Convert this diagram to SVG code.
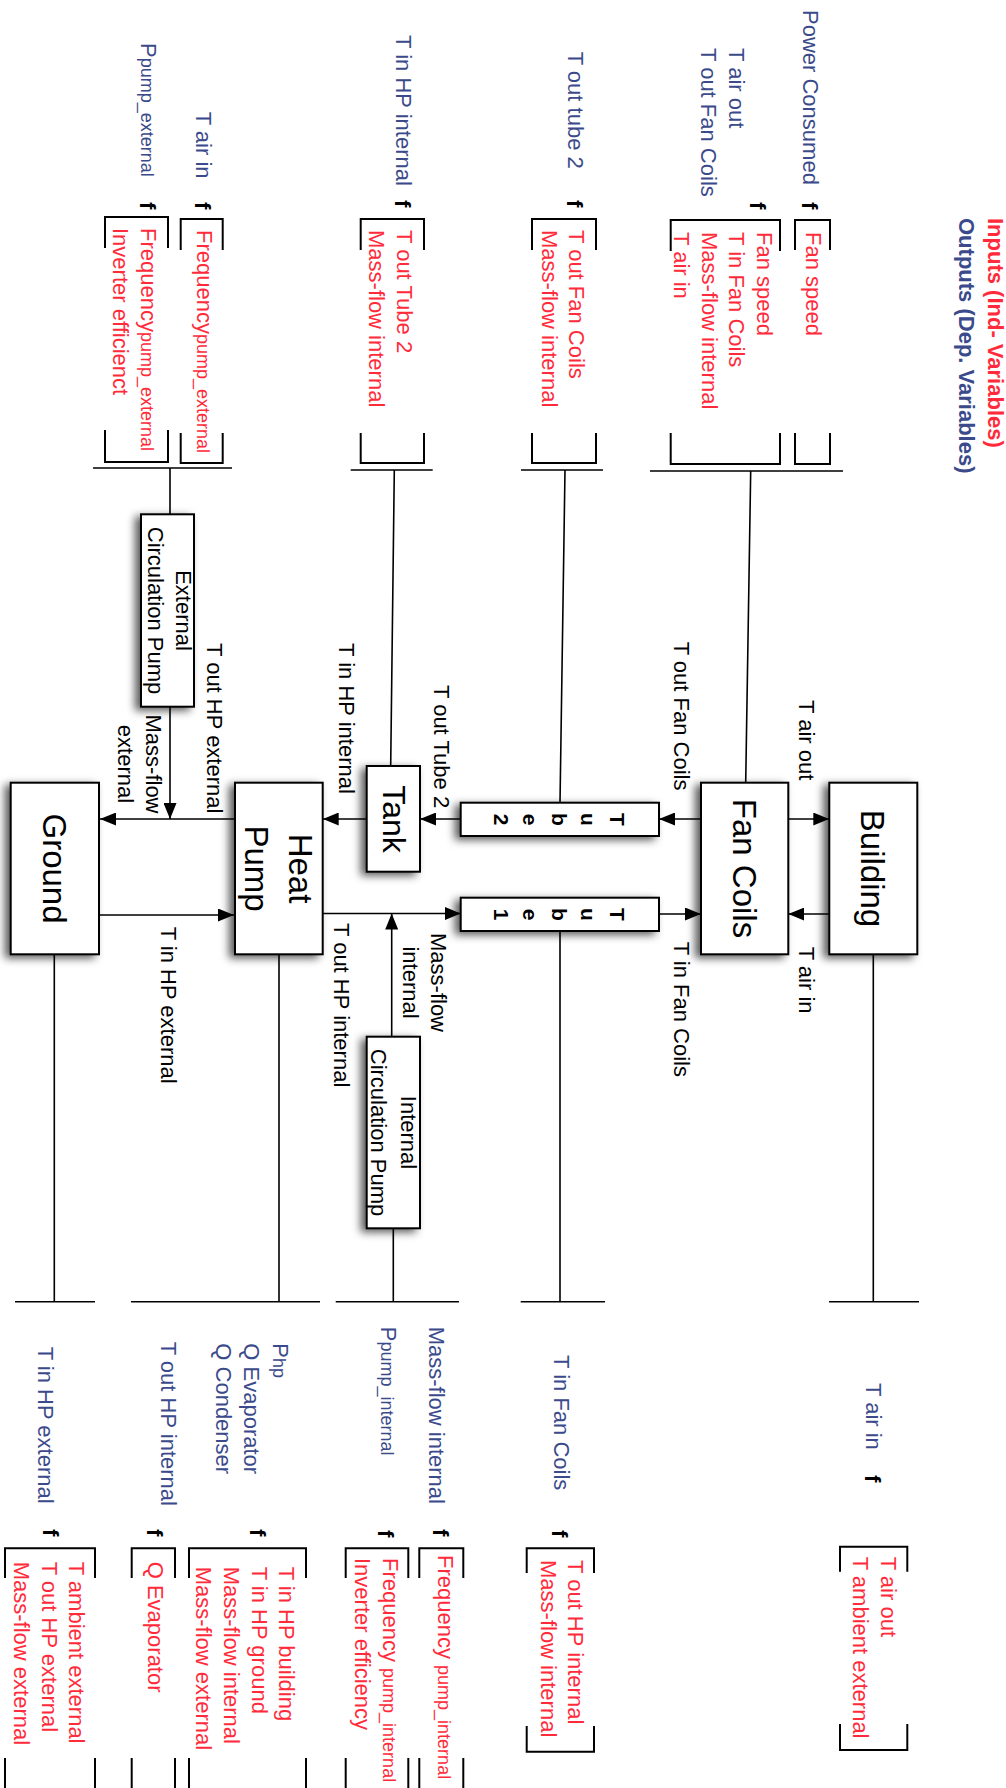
<svg xmlns="http://www.w3.org/2000/svg" width="1006" height="1788" viewBox="0 0 1006 1788">
<defs>
<style>
text{font-family:"Liberation Sans",Arial,Helvetica,sans-serif;font-size:22px}
.k{fill:#000}
.b{fill:#3b4a8b}
.r{fill:#ff2b3b}
.f{fill:#000;font-weight:bold}
.big{font-size:33px}
.tank{font-size:32px}
.tb{font-weight:bold;font-size:21px;fill:#000}
.s{font-size:18px}
.box{fill:#fff;stroke:#000;stroke-width:2;filter:url(#sh)}
.ln{fill:none;stroke:#000;stroke-width:1.6}
.br{fill:none;stroke:#000;stroke-width:2}
.ar{fill:none;stroke:#000;stroke-width:1.6;marker-end:url(#ah)}
</style>
<filter id="sh" x="-40%" y="-40%" width="180%" height="180%">
<feDropShadow dx="-5" dy="3" stdDeviation="4" flood-color="#000" flood-opacity="0.65"/>
</filter>
<marker id="ah" markerWidth="16" markerHeight="13" refX="16" refY="6.5" orient="auto" markerUnits="userSpaceOnUse">
<path d="M0,0 L16,6.5 L0,13 z" fill="#000"/>
</marker>
</defs>
<rect width="1006" height="1788" fill="#fff"/>

<g id="legend">
<text class="r" font-weight="bold" transform="translate(987.5,218) rotate(90)">Inputs (Ind- Variables)</text>
<text class="b" font-weight="bold" transform="translate(959,218) rotate(90)">Outputs (Dep. Variables)</text>
</g>

<g id="connectors">
<!-- top T-lines -->
<path class="ln" d="M650,471 L843,471 M750.7,471 L745.7,782.7"/>
<path class="ln" d="M521,470 L603,470 M565,470 L560,803"/>
<path class="ln" d="M350.7,470 L432.7,470 M394.3,470 L390.7,766"/>
<path class="ln" d="M93,468 L232,468 M170,468 L170,514"/>
<!-- bottom T-lines -->
<path class="ln" d="M54.3,954 L54.3,1301.7 M15,1301.7 L95,1301.7"/>
<path class="ln" d="M279,954 L279,1301.7 M131,1301.7 L320,1301.7"/>
<path class="ln" d="M393.3,1228 L393.3,1301.7 M335.7,1301.7 L459,1301.7"/>
<path class="ln" d="M560,931 L560,1301.7 M520.7,1301.7 L605,1301.7"/>
<path class="ln" d="M873.3,954 L873.3,1301.7 M829,1301.7 L919,1301.7"/>
<!-- arrows -->
<line class="ar" x1="235" y1="819" x2="100" y2="819"/>
<line class="ar" x1="99" y1="915" x2="234" y2="915"/>
<line class="ar" x1="170" y1="707" x2="170" y2="819"/>
<line class="ar" x1="366.7" y1="819" x2="322.7" y2="819"/>
<line class="ar" x1="461" y1="819" x2="420" y2="819"/>
<line class="ar" x1="322.7" y1="913.5" x2="460.7" y2="913.5"/>
<line class="ar" x1="391.7" y1="1036.7" x2="391.7" y2="913.5"/>
<line class="ar" x1="659" y1="914" x2="701" y2="914"/>
<line class="ar" x1="701" y1="819" x2="659" y2="819"/>
<line class="ar" x1="788.3" y1="819" x2="829.3" y2="819"/>
<line class="ar" x1="829.3" y1="914" x2="788.3" y2="914"/>
<!-- connector labels -->
<text class="k" text-anchor="middle" transform="translate(146,764) rotate(90)"><tspan x="0">Mass-flow</tspan><tspan x="0" dy="28.4">external</tspan></text>
<text class="k" transform="translate(207,643) rotate(90)">T out HP external</text>
<text class="k" transform="translate(161,926.7) rotate(90)">T in HP external</text>
<text class="k" transform="translate(338.6,643) rotate(90)">T in HP internal</text>
<text class="k" transform="translate(434.3,685) rotate(90)">T out Tube 2</text>
<text class="k" text-anchor="middle" transform="translate(431,982.5) rotate(90)"><tspan x="0">Mass-flow</tspan><tspan x="0" dy="28.4">internal</tspan></text>
<text class="k" transform="translate(334.3,923) rotate(90)">T out HP internal</text>
<text class="k" transform="translate(799.3,700) rotate(90)">T air out</text>
<text class="k" transform="translate(674.3,641.7) rotate(90)">T out Fan Coils</text>
<text class="k" transform="translate(674.3,941.7) rotate(90)">T in  Fan Coils</text>
<text class="k" transform="translate(799.3,946.7) rotate(90)">T air in</text>
</g>

<g id="ground">
<rect class="box" x="10.7" y="782.7" width="88.3" height="171.6"/>
<text class="k big" text-anchor="middle" transform="translate(43,868.5) rotate(90)">Ground</text>
</g>
<g id="heat-pump">
<rect class="box" x="235" y="782.7" width="87.7" height="171.6"/>
<text class="k big" text-anchor="middle" transform="translate(289,868.5) rotate(90)"><tspan x="0">Heat</tspan><tspan x="0" dy="44.3">Pump</tspan></text>
</g>
<g id="tank">
<rect class="box" x="366.7" y="766" width="53.3" height="105.7"/>
<text class="k tank" text-anchor="middle" transform="translate(383,819) rotate(90)">Tank</text>
</g>
<g id="external-pump">
<rect class="box" x="141" y="514.3" width="53" height="192.4"/>
<text class="k" text-anchor="middle" transform="translate(176,610.5) rotate(90)"><tspan x="0">External</tspan><tspan x="0" dy="28.4">Circulation Pump</tspan></text>
</g>
<g id="internal-pump">
<rect class="box" x="366.7" y="1036.7" width="53.3" height="191.6"/>
<text class="k" text-anchor="middle" transform="translate(401,1132.5) rotate(90)"><tspan x="0">Internal</tspan><tspan x="0" dy="30">Circulation Pump</tspan></text>
</g>
<g id="tube-2">
<rect class="box" x="460.7" y="802.7" width="198.3" height="33.3"/>
<text class="tb" text-anchor="middle" transform="translate(610,819.5) rotate(90)"><tspan x="0">T</tspan><tspan x="0" dy="29">u</tspan><tspan x="0" dy="29">b</tspan><tspan x="0" dy="29">e</tspan><tspan x="0" dy="29">2</tspan></text>
</g>
<g id="tube-1">
<rect class="box" x="460.7" y="897.7" width="198.3" height="33.3"/>
<text class="tb" text-anchor="middle" transform="translate(610,914.5) rotate(90)"><tspan x="0">T</tspan><tspan x="0" dy="29">u</tspan><tspan x="0" dy="29">b</tspan><tspan x="0" dy="29">e</tspan><tspan x="0" dy="29">1</tspan></text>
</g>
<g id="fan-coils">
<rect class="box" x="701" y="782.7" width="87.3" height="171.6"/>
<text class="k big" text-anchor="middle" transform="translate(733,868.5) rotate(90)">Fan Coils</text>
</g>
<g id="building">
<rect class="box" x="829.3" y="782.7" width="88" height="171.6"/>
<text class="k big" text-anchor="middle" transform="translate(861.4,868.5) rotate(90)">Building</text>
</g>

<!-- top equation groups -->
<g id="eq-power-consumed">
<text class="b" transform="translate(802.5,10) rotate(90)">Power Consumed</text>
<text class="f" transform="translate(802,202) rotate(90)">f</text>
<path class="br" d="M795,250 L795,220 L830,220 L830,250 M795,433 L795,464 L830,464 L830,433"/>
<text class="r" transform="translate(806,232) rotate(90)">Fan speed</text>
</g>
<g id="eq-fan-coils-out">
<text class="b" transform="translate(729,48) rotate(90)"><tspan x="0">T air out</tspan><tspan x="0" dy="27.7">T out Fan Coils</tspan></text>
<text class="f" transform="translate(750,202) rotate(90)">f</text>
<path class="br" d="M670.7,251 L670.7,220 L780,220 L780,251 M670.7,433 L670.7,464 L780,464 L780,433"/>
<text class="r" transform="translate(757,232) rotate(90)"><tspan x="0">Fan speed</tspan><tspan x="0" dy="27.7">T in Fan Coils</tspan><tspan x="0" dy="27.7">Mass-flow internal</tspan><tspan x="0" dy="27.7">T air in</tspan></text>
</g>
<g id="eq-tube-2">
<text class="b" transform="translate(567.6,51.7) rotate(90)">T out tube 2</text>
<text class="f" transform="translate(567,200) rotate(90)">f</text>
<path class="br" d="M532,250 L532,219 L596,219 L596,250 M532,433 L532,463 L596,463 L596,433"/>
<text class="r" transform="translate(569.3,230) rotate(90)"><tspan x="0">T out Fan Coils</tspan><tspan x="0" dy="27.7">Mass-flow internal</tspan></text>
</g>
<g id="eq-tank">
<text class="b" transform="translate(396,35) rotate(90)">T in HP internal</text>
<text class="f" transform="translate(395,200) rotate(90)">f</text>
<path class="br" d="M360.7,250 L360.7,219 L424,219 L424,250 M360.7,433 L360.7,463 L424,463 L424,433"/>
<text class="r" transform="translate(397,230) rotate(90)"><tspan x="0">T out Tube 2</tspan><tspan x="0" dy="27.7">Mass-flow internal</tspan></text>
</g>
<g id="eq-ext-pump-air">
<text class="b" transform="translate(196,111.7) rotate(90)">T air in</text>
<text class="f" transform="translate(195,202) rotate(90)">f</text>
<path class="br" d="M180.7,250 L180.7,219 L222.7,219 L222.7,250 M180.7,433 L180.7,463 L222.7,463 L222.7,433"/>
<text class="r" transform="translate(197,230) rotate(90)">Frequency<tspan class="s">pump_external</tspan></text>
</g>
<g id="eq-ext-pump-power">
<text class="b" transform="translate(141,43) rotate(90)">P<tspan class="s">pump_external</tspan></text>
<text class="f" transform="translate(140,202) rotate(90)">f</text>
<path class="br" d="M105,248 L105,217 L168,217 L168,248 M105,430 L105,462 L168,462 L168,430"/>
<text class="r" transform="translate(141,228) rotate(90)"><tspan x="0">Frequency<tspan class="s">pump_external</tspan></tspan><tspan x="0" dy="27.7">Inverter efficienct</tspan></text>
</g>

<!-- bottom equation groups -->
<g id="eq-ground">
<text class="b" transform="translate(37.6,1346.7) rotate(90)">T in HP external</text>
<text class="f" transform="translate(43,1529) rotate(90)">f</text>
<path class="br" d="M5,1578 L5,1548.3 L95,1548.3 L95,1578 M5,1758 L5,1792 M95,1758 L95,1792"/>
<text class="r" transform="translate(69.3,1561.7) rotate(90)"><tspan x="0">T ambient external</tspan><tspan x="0" dy="27.7">T out HP external</tspan><tspan x="0" dy="27.7">Mass-flow external</tspan></text>
</g>
<g id="eq-hp-tout">
<text class="b" transform="translate(161,1341.7) rotate(90)">T out HP internal</text>
<text class="f" transform="translate(147,1529) rotate(90)">f</text>
<path class="br" d="M131.7,1578 L131.7,1548.3 L175,1548.3 L175,1578 M131.7,1758 L131.7,1792 M175,1758 L175,1792"/>
<text class="r" transform="translate(147.6,1561.7) rotate(90)">Q Evaporator</text>
</g>
<g id="eq-hp-power">
<text class="b" transform="translate(272.6,1343.3) rotate(90)"><tspan x="0">P<tspan class="s">hp</tspan></tspan><tspan x="0" dy="28.3">Q Evaporator</tspan><tspan x="0" dy="28.3">Q Condenser</tspan></text>
<text class="f" transform="translate(250,1529) rotate(90)">f</text>
<path class="br" d="M189,1578 L189,1548.3 L306,1548.3 L306,1578 M189,1758 L189,1792 M306,1758 L306,1792"/>
<text class="r" transform="translate(279.3,1566.7) rotate(90)"><tspan x="0">T in HP building</tspan><tspan x="0" dy="27.7">T in HP ground</tspan><tspan x="0" dy="27.7">Mass-flow internal</tspan><tspan x="0" dy="27.7">Mass-flow external</tspan></text>
</g>
<g id="eq-int-pump-power">
<text class="b" transform="translate(381,1326.7) rotate(90)">P<tspan class="s">pump_internal</tspan></text>
<text class="f" transform="translate(378,1530) rotate(90)">f</text>
<path class="br" d="M345.7,1578 L345.7,1548.3 L408.3,1548.3 L408.3,1578 M345.7,1758 L345.7,1792 M408.3,1758 L408.3,1792"/>
<text class="r" transform="translate(382.6,1558) rotate(90)"><tspan x="0">Frequency <tspan class="s">pump_internal</tspan></tspan><tspan x="0" dy="27.7">Inverter efficiency</tspan></text>
</g>
<g id="eq-int-pump-flow">
<text class="b" transform="translate(429.3,1326.7) rotate(90)">Mass-flow internal</text>
<text class="f" transform="translate(433,1529) rotate(90)">f</text>
<path class="br" d="M419.3,1578 L419.3,1548.3 L463.3,1548.3 L463.3,1578 M419.3,1758 L419.3,1792 M463.3,1758 L463.3,1792"/>
<text class="r" transform="translate(437.6,1555) rotate(90)">Frequency <tspan class="s">pump_internal</tspan></text>
</g>
<g id="eq-tube-1">
<text class="b" transform="translate(554.3,1355) rotate(90)">T in  Fan Coils</text>
<text class="f" transform="translate(552,1530) rotate(90)">f</text>
<path class="br" d="M526.7,1573 L526.7,1548.3 L594,1548.3 L594,1573 M526.7,1726 L526.7,1751.7 L594,1751.7 L594,1726"/>
<text class="r" transform="translate(568.3,1560) rotate(90)"><tspan x="0">T out HP internal</tspan><tspan x="0" dy="27.7">Mass-flow internal</tspan></text>
</g>
<g id="eq-building">
<text class="b" transform="translate(866,1383) rotate(90)">T air in</text>
<text class="f" transform="translate(865,1475) rotate(90)">f</text>
<path class="br" d="M840,1571.7 L840,1546.7 L907.3,1546.7 L907.3,1571.7 M840,1724 L840,1750 L907.3,1750 L907.3,1724"/>
<text class="r" transform="translate(881,1556.7) rotate(90)"><tspan x="0">T air out</tspan><tspan x="0" dy="27.7">T ambient external</tspan></text>
</g>
</svg>
